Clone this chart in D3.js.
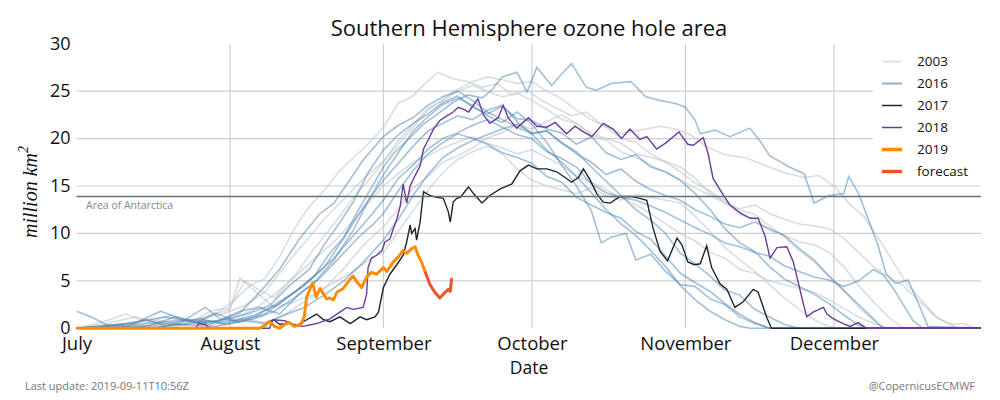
<!DOCTYPE html>
<html>
<head>
<meta charset="utf-8">
<script src="https://cdn.jsdelivr.net/npm/d3@7"></script>
<style>
body { margin: 0; background: #fff; }
svg text { font-family: "Open Sans", sans-serif; }
</style>
</head>
<body>
<div id="chart"></div>
<script>
// x values are days counted from 1 July, y values are million km2
var monthStarts = [0, 31, 62, 92, 123, 153];
var monthNames = ["July", "August", "September", "October", "November", "December"];
var yTicks = [0, 5, 10, 15, 20, 25, 30];
var antarcticaArea = 13.9;
var legendLabels = ["2003", "2016", "2017", "2018", "2019", "forecast"];

// earlier years, drawn faintly
var bgBlue1 = [[0,0],[12,0.4],[22,0.9],[30,0.6],[36,1.4],[41,2.6],[45,4.2],[48,5.5],[51,7.8],[54,9.6],[57,12.5],[60,15.2],[62,17.0],[64,18.4],[67,19.9],[70,21.5],[73,22.6],[76,23.8],[79,24.6],[82,24.3],[84,25.2],[86,26.5],[89,27.0],[91,24.9],[93,27.5],[96,25.6],[98,26.8],[100,27.9],[103,25.4],[105,25.1],[108,25.8],[112,26.0],[115,24.4],[118,24.0],[121,23.7],[123,23.3],[125,21.9],[126,20.5],[129,20.9],[132,20.2],[136,21.1],[138,19.8],[140,18.2],[144,17.0],[147,16.3],[149,13.2],[152,14.0],[155,14.2],[156,16.0],[158,14.2],[160,11.4],[162,8.6],[163.5,5.8],[165.5,4.7],[168,5.1],[170,2.7],[172,0.2],[183,0]];
var bgBlue2 = [[0,0],[10,0],[18,0.5],[25,1.0],[30,0.4],[36,1.0],[40,1.8],[44,3.2],[48,4.8],[52,7.2],[56,10.4],[59,13.5],[62,16.2],[65,18.5],[68,20.8],[71,22.3],[74,23.6],[77,24.3],[80,23.5],[83,22.4],[86,21.7],[89,22.8],[92,21.5],[95,19.6],[98,17.2],[101,15.0],[104,12.4],[106,9.0],[108,9.6],[111,10.0],[113,7.2],[116,7.8],[119,6.0],[122,4.6],[125,4.4],[128,3.1],[131,2.5],[134,1.2],[137,0.5],[140,0],[183,0]];
var bgBlue3 = [[0,0],[14,0.2],[20,1.2],[24,0.6],[30,0.9],[35,1.6],[39,2.4],[43,4.5],[47,6.2],[50,8.8],[53,11.0],[56,13.4],[59,16.5],[62,18.8],[65,20.4],[68,21.6],[71,22.6],[74,23.8],[77,24.5],[80,23.3],[83,22.6],[86,23.4],[89,22.1],[92,21.9],[95,21.0],[98,20.6],[101,19.4],[104,20.2],[107,18.5],[110,17.8],[113,18.3],[116,17.0],[119,16.5],[122,15.6],[125,14.2],[128,12.5],[131,10.5],[134,9.0],[137,8.1],[140,6.5],[143,5.2],[146,4.4],[149,3.6],[152,2.6],[155,1.4],[158,0.3],[160,0],[183,0]];
var bgBlue4 = [[0,0],[16,0],[21,0.6],[26,2.2],[29,1.0],[33,0.7],[38,1.5],[42,3.0],[46,4.5],[50,6.4],[54,9.5],[58,12.8],[62,15.6],[65,17.4],[68,19.2],[71,20.8],[74,21.6],[77,22.4],[80,22.0],[83,23.0],[86,23.5],[89,21.8],[92,20.5],[95,20.8],[98,19.6],[101,18.4],[104,17.5],[107,16.2],[110,16.8],[113,15.5],[116,14.6],[119,14.0],[122,13.5],[125,12.5],[128,11.8],[131,11.0],[134,10.6],[137,11.2],[140,10.5],[143,9.8],[146,8.4],[149,7.2],[152,5.5],[155,4.0],[158,2.5],[161,1.0],[163,0],[183,0]];
var bgBlue5 = [[0,1.8],[3,1.2],[6,0.4],[10,0.2],[14,0.9],[18,0.3],[24,0.5],[28,1.6],[32,0.8],[36,1.2],[40,2.5],[44,3.8],[48,5.5],[52,7.4],[56,9.8],[59,11.6],[62,13.5],[65,15.8],[68,17.2],[71,18.9],[74,20.0],[77,20.6],[80,21.4],[83,22.0],[86,21.2],[89,20.4],[92,20.0],[95,18.6],[98,17.9],[101,17.0],[104,15.2],[107,14.3],[110,13.8],[113,13.5],[116,12.9],[119,12.2],[122,11.4],[125,10.6],[128,9.9],[131,9.0],[134,8.6],[137,8.0],[140,7.6],[143,6.6],[146,6.0],[149,5.4],[152,5.1],[155,4.4],[158,5.0],[161,6.2],[163,5.6],[165,4.2],[167,2.5],[169,0.8],[171,0],[183,0]];
var bgBlue6 = [[0,0],[15,0],[20,0.4],[28,0.2],[34,0.8],[38,0.5],[42,1.4],[46,2.2],[50,3.5],[54,5.0],[58,7.0],[62,9.3],[65,11.5],[68,14.0],[71,16.2],[74,18.0],[77,19.0],[80,19.8],[83,20.4],[86,21.0],[89,21.5],[92,20.6],[95,20.8],[98,19.5],[101,18.6],[104,17.0],[107,15.5],[110,14.0],[113,12.5],[116,11.4],[119,10.0],[122,7.9],[125,6.8],[128,5.5],[131,4.0],[134,3.5],[137,2.0],[140,1.2],[143,0.4],[146,0],[183,0]];
var bgBlue7 = [[0,0],[10,0.5],[18,1.2],[22,0.8],[27,0.4],[33,1.8],[37,2.2],[41,1.5],[45,3.6],[49,5.2],[53,7.4],[57,9.6],[60,11.0],[62,12.1],[65,14.5],[68,16.6],[71,18.4],[74,19.6],[77,20.5],[80,20.0],[83,19.4],[86,18.5],[89,18.0],[92,17.4],[95,16.0],[98,15.4],[101,13.8],[104,13.0],[107,12.2],[110,11.6],[113,10.2],[116,9.4],[119,7.6],[122,5.8],[125,4.8],[128,3.9],[131,2.6],[134,1.5],[137,0.6],[140,0],[183,0]];
var bgBlue8 = [[0,0],[5,0.2],[12,0.6],[17,1.8],[21,1.0],[25,0.5],[29,0.8],[33,1.6],[37,3.8],[41,6.2],[45,9.4],[49,12.0],[52,13.2],[55,15.5],[58,17.8],[62,20.2],[65,21.4],[68,22.2],[71,23.5],[74,24.4],[77,25.0],[80,24.0],[83,22.8],[86,22.0],[89,21.2],[92,20.5],[95,18.8],[98,17.5],[101,16.0],[104,14.3],[107,12.5],[110,11.0],[113,9.8],[116,8.2],[119,6.5],[122,4.5],[125,3.0],[128,1.8],[131,0.9],[134,0.2],[136,0],[183,0]];

var bgGrey1 = [[0,0],[8,0.3],[15,0.9],[22,0.4],[28,1.5],[32,3.0],[35,4.5],[38,5.2],[41,7.5],[44,10.5],[47,12.8],[50,14.5],[53,16.5],[56,18.0],[59,19.5],[62,21.2],[65,23.7],[68,24.5],[70,25.6],[73,27.0],[76,26.3],[79,26.0],[82,25.4],[85,25.8],[88,24.6],[91,25.1],[94,24.0],[97,23.2],[100,22.4],[103,22.8],[106,21.5],[110,20.5],[114,20.9],[118,21.3],[121,21.0],[124,20.4],[127,19.2],[131,18.3],[135,18.0],[139,17.2],[143,16.4],[147,15.9],[150,16.1],[153,15.0],[156,13.2],[159,11.8],[162,9.5],[165,7.0],[168,4.5],[171,2.8],[174,1.0],[177,0.4],[179,0.5],[181,0.1],[183,0]];
var bgGrey2 = [[0,0],[6,0.5],[12,1.2],[16,0.6],[22,0.3],[27,1.8],[31,2.2],[34,5.0],[37,4.0],[40,3.2],[44,5.5],[48,8.4],[52,11.0],[56,13.8],[59,15.6],[62,17.5],[65,19.8],[68,21.5],[71,23.2],[74,24.0],[77,25.0],[80,25.6],[83,25.0],[86,24.4],[89,24.8],[92,24.0],[95,23.1],[98,22.0],[101,21.6],[104,20.5],[107,20.0],[110,19.5],[113,18.4],[116,18.0],[119,17.6],[122,17.0],[125,15.8],[128,14.2],[131,13.5],[134,12.0],[137,11.5],[140,10.3],[143,9.8],[146,9.1],[149,8.8],[152,8.0],[155,6.5],[158,4.5],[161,2.8],[164,1.2],[167,0],[183,0]];
var bgGrey3 = [[0,0],[12,0],[18,0.3],[26,0.8],[30,0.5],[34,1.0],[38,0.6],[42,1.4],[46,2.8],[50,4.2],[54,6.3],[58,8.8],[62,10.7],[65,12.6],[68,14.8],[71,16.0],[74,17.5],[77,18.2],[80,19.0],[83,20.1],[86,20.6],[89,21.5],[92,21.0],[95,21.8],[98,22.5],[101,21.6],[104,20.3],[107,19.8],[110,18.6],[113,18.0],[116,17.2],[119,16.4],[122,15.6],[125,14.8],[128,14.0],[131,13.2],[134,12.6],[137,13.0],[140,12.1],[143,11.5],[146,11.0],[149,10.8],[152,10.5],[155,9.5],[158,8.0],[161,6.5],[164,5.4],[167,4.5],[170,3.0],[173,1.5],[176,0.5],[178,0],[183,0]];
var bgGrey4 = [[0,0],[6,0.8],[10,1.5],[14,0.7],[20,0.4],[26,1.2],[31,2.0],[33,5.3],[35,4.4],[37,3.5],[40,2.2],[44,2.8],[48,3.6],[52,4.8],[56,6.0],[59,7.2],[62,8.0],[65,10.2],[68,12.4],[71,14.6],[74,16.4],[77,17.8],[80,18.6],[83,19.2],[86,18.4],[89,16.8],[92,15.6],[95,15.0],[98,14.6],[101,14.2],[104,14.8],[107,14.0],[110,13.5],[113,14.1],[116,13.8],[119,13.5],[122,13.2],[125,11.8],[128,10.2],[131,8.5],[134,7.2],[137,6.0],[140,4.6],[143,3.2],[146,2.0],[149,0.9],[152,0.2],[154,0],[183,0]];
var bgGrey5 = [[0,0],[10,0.3],[20,0.2],[25,0.9],[30,1.6],[34,2.4],[38,3.8],[42,6.5],[46,9.0],[50,11.5],[54,13.6],[58,15.8],[62,17.6],[65,19.4],[68,21.2],[71,23.0],[74,24.1],[77,25.2],[80,26.0],[83,26.5],[86,26.2],[89,25.8],[92,26.0],[95,25.0],[98,24.2],[101,23.0],[104,22.0],[107,21.2],[110,20.0],[113,19.6],[116,18.4],[119,17.5],[122,16.5],[125,15.3],[128,14.5],[131,13.2],[134,12.5],[137,12.0],[140,10.8],[143,9.6],[146,8.2],[149,7.0],[152,5.5],[155,4.0],[158,2.2],[161,0.8],[163,0],[183,0]];
var bgGrey6 = [[0,0],[8,0],[14,0.5],[19,1.4],[23,0.9],[28,0.4],[32,1.1],[36,2.0],[40,3.6],[44,5.4],[48,7.3],[52,9.1],[56,11.4],[59,13.2],[62,15.0],[65,16.3],[68,17.5],[71,18.2],[74,19.0],[77,19.6],[80,20.2],[83,19.5],[86,19.0],[89,18.4],[92,18.8],[95,18.0],[98,17.2],[101,16.0],[104,15.4],[107,14.6],[110,13.8],[113,13.0],[116,12.1],[119,11.0],[122,10.0],[125,9.2],[128,8.0],[131,7.4],[134,6.2],[137,5.8],[140,5.0],[143,4.6],[146,4.2],[149,3.8],[152,3.0],[155,2.1],[158,1.2],[161,0.5],[164,0],[183,0]];

var y2017 = [[0,0],[37,0],[38.5,0.5],[39.8,0.9],[41.1,0.4],[42.8,0.6],[44.5,0.3],[46.5,0.9],[48.5,1.5],[49.9,0.9],[51.2,0.7],[53.2,1.2],[55.3,0.5],[57.3,1.2],[58.6,0.9],[60.3,1.2],[61,1.7],[62,4.3],[63.3,5.7],[64.7,6.7],[66,7.7],[66.7,9.1],[67.4,10.9],[67.7,10.0],[68.4,10.5],[68.7,9.3],[69.4,11.2],[70.1,14.4],[71.4,14.0],[72.8,13.8],[74.1,13.7],[75.1,12.3],[75.5,11.2],[76.1,13.3],[76.8,13.7],[77.5,13.8],[79.2,14.9],[80.2,14.2],[81.9,13.2],[83.5,14.0],[85.6,14.7],[87.9,15.2],[89.6,16.6],[91.3,17.2],[93,16.8],[95,16.8],[97,16.5],[98.7,15.9],[100,15.4],[101.4,15.9],[102.4,16.8],[103.7,15.7],[105.1,14.2],[106.4,13.3],[107.8,13.2],[109.8,13.9],[111.8,13.9],[113.8,13.7],[115.2,13.5],[116.5,10.5],[117.9,8.1],[119.4,7.1],[121.3,9.5],[122.3,8.8],[123.5,7.0],[124.8,6.7],[126,6.8],[127.3,8.7],[128.3,6.4],[130,4.7],[131.4,4.1],[133,2.2],[134.7,2.8],[136.7,4.1],[137.7,3.8],[139.4,1.2],[140.4,0],[183,0]];

var y2018 = [[0,0],[24,0],[24.7,0.5],[26,0.4],[27,0],[39,0],[39.7,0.9],[42.1,0.8],[44,0.3],[45.8,0.2],[48.5,0.5],[51.2,1.0],[53.2,1.7],[54.6,2.2],[55.9,2.0],[57.9,2.2],[58.6,3.6],[58.9,6.4],[59.6,7.4],[60.6,7.7],[61.7,8.2],[62.3,9.1],[63.3,9.4],[64,10.5],[64.7,11.5],[65.4,12.9],[66,15.2],[66.7,13.2],[67.4,15.0],[68.4,16.1],[69.4,17.1],[70.1,18.9],[71.1,19.9],[72.1,21.0],[73.4,21.9],[74.8,22.4],[76.1,22.8],[77.1,23.3],[78.1,23.1],[79.2,22.8],[81.1,24.2],[82.2,22.5],[83.5,21.6],[85.2,22.2],[86.2,23.5],[87.2,22.2],[88.9,21.1],[91.3,22.2],[93,21.3],[95,21.2],[96.7,21.7],[99,20.5],[100.7,21.3],[102.4,20.7],[104.1,20.2],[106.4,21.6],[108.4,21.0],[110.1,20.0],[111.8,21.0],[113.8,19.9],[115.2,20.2],[117.2,18.9],[119.2,19.6],[121.7,20.7],[123.5,19.4],[124.6,19.3],[126.6,20.1],[127.6,18.4],[128.6,15.8],[130.7,14.0],[132,13.0],[134,12.2],[136.1,11.6],[137.7,11.6],[139.1,9.7],[140.1,7.4],[141.5,8.5],[143.5,8.6],[144.8,7.0],[146.5,3.3],[147.5,1.2],[148.8,1.7],[150.9,2.2],[151.6,1.5],[152.9,1.0],[154.9,0.5],[156.3,0.2],[157.9,0.6],[159.6,0],[183,0]];

var y2019 = [[0,0],[37,0],[38,0.3],[39,0.7],[40,0.2],[41,0],[42,0.4],[43,0.6],[44,0.2],[45.3,0.4],[46,1.2],[46.5,3.3],[47.7,4.8],[48.4,3.3],[49.2,4.2],[50.5,3.1],[51.2,3.2],[51.9,3.0],[52.6,3.8],[53.9,4.2],[55.3,5.2],[55.9,5.5],[56.6,4.9],[57.6,4.3],[58.6,5.4],[59.6,5.9],[60.6,5.7],[62,6.4],[62.7,6.0],[64,7.0],[65,7.5],[66,8.2],[66.7,7.9],[67.7,8.4],[68.4,8.6],[69,7.7],[69.7,7.0],[70.4,6.0]];
var forecast2019 = [[70.4,6.0],[70.7,5.6],[71.4,4.6],[72.4,3.8],[73.4,3.2],[74.1,3.6],[75.1,4.1],[75.5,3.9],[75.8,5.3]];

var width = 1000, height = 400;

var svg = d3.select("#chart").append("svg")
    .attr("width", width)
    .attr("height", height)

var x = d3.scaleLinear().domain([0, 183]).range([76.5, 982.4]);
var y = d3.scaleLinear().domain([0, 30]).range([328.3, 43.7]);

var left = 76.5, right = 981;

svg.append("defs").append("clipPath").attr("id", "plotclip")
  .append("rect")
    .attr("x", left).attr("y", 40)
    .attr("width", right - left).attr("height", 292)

// grid
svg.append("g").selectAll("line")
    .data(yTicks.filter(function(t){ return t > 0 && t < 30 }))
  .enter().append("line")
    .attr("x1", left).attr("x2", right)
    .attr("y1", function(d){ return y(d) }).attr("y2", function(d){ return y(d) })
    .attr("stroke", "#cfcfcf").attr("stroke-width", 1.2)

svg.append("g").selectAll("line")
    .data(monthStarts.slice(1))
  .enter().append("line")
    .attr("x1", function(d){ return x(d) }).attr("x2", function(d){ return x(d) })
    .attr("y1", y(30)).attr("y2", y(0))
    .attr("stroke", "#cfcfcf").attr("stroke-width", 1.2)

// legend background hides the grid behind it
svg.append("rect")
    .attr("x", 873).attr("y", 44)
    .attr("width", right - 873).attr("height", 139)
    .attr("fill", "#fff")

var line = d3.line()
    .x(function(d){ return x(d[0]) })
    .y(function(d){ return y(d[1]) })

var plot = svg.append("g").attr("clip-path", "url(#plotclip)")

var greys = [bgGrey1, bgGrey2, bgGrey3, bgGrey4, bgGrey5, bgGrey6];
var blues = [bgBlue1, bgBlue2, bgBlue3, bgBlue4, bgBlue5, bgBlue6, bgBlue7, bgBlue8];

plot.selectAll(".grey").data(greys).enter().append("path")
    .attr("class", "grey")
    .attr("d", line)
    .attr("fill", "none")
    .attr("stroke", "#b9c1c9").attr("stroke-opacity", 0.55).attr("stroke-width", 1.6)

plot.selectAll(".blue").data(blues).enter().append("path")
    .attr("class", "blue")
    .attr("d", line)
    .attr("fill", "none")
    .attr("stroke", "#4682b4").attr("stroke-opacity", 0.5).attr("stroke-width", 1.6)

// area of Antarctica reference
svg.append("line")
    .attr("x1", left).attr("x2", right)
    .attr("y1", y(antarcticaArea)).attr("y2", y(antarcticaArea))
    .attr("stroke", "#667070").attr("stroke-width", 1.4)

svg.append("text")
    .attr("x", 86).attr("y", 209)
    .attr("font-size", "10.5px").attr("fill", "#888")
    .text("Area of Antarctica")

plot.append("path").datum(y2017)
    .attr("d", line).attr("fill", "none")
    .attr("stroke", "#1b2631").attr("stroke-width", 1.4)

plot.append("path").datum(y2018)
    .attr("d", line).attr("fill", "none")
    .attr("stroke", "#6a3d9a").attr("stroke-width", 1.4)

plot.append("path").datum(y2019)
    .attr("d", line).attr("fill", "none")
    .attr("stroke", "#ff8c00").attr("stroke-width", 3)
    .attr("stroke-linejoin", "round")

plot.append("path").datum(forecast2019)
    .attr("d", line).attr("fill", "none")
    .attr("stroke", "#ef5429").attr("stroke-width", 3)
    .attr("stroke-linejoin", "round")

// axes
var xAxis = svg.append("g")
    .attr("transform", "translate(0," + y(0) + ")")
    .call(d3.axisBottom(x).tickValues(monthStarts)
      .tickFormat(function(d, i){ return monthNames[i] })
      .tickSize(0).tickPadding(9))
xAxis.select(".domain").remove()
xAxis.selectAll("text")
    .attr("font-family", "Open Sans, sans-serif")
    .style("font-size", "18.5px").attr("fill", "#111")

var yAxis = svg.append("g")
    .attr("transform", "translate(" + left + ",0)")
    .call(d3.axisLeft(y).tickValues(yTicks).tickSize(0).tickPadding(6))
yAxis.select(".domain").remove()
yAxis.selectAll("text")
    .attr("font-family", "Open Sans, sans-serif")
    .style("font-size", "18px").attr("fill", "#111")
    .attr("dy", "0.3em")

// titles
svg.append("text")
    .attr("x", 529).attr("y", 36)
    .attr("text-anchor", "middle")
    .style("font-size", "22px").attr("fill", "#111")
    .text("Southern Hemisphere ozone hole area")

svg.append("text")
    .attr("x", 529).attr("y", 374)
    .attr("text-anchor", "middle")
    .style("font-size", "17.5px").attr("fill", "#111")
    .text("Date")

var ylab = svg.append("text")
    .attr("transform", "translate(37,192) rotate(-90)")
    .attr("text-anchor", "middle")
    .style("font-family", "'Liberation Serif', serif")
    .style("font-style", "italic")
    .style("font-size", "20px").attr("fill", "#111")
ylab.append("tspan").text("million km")
ylab.append("tspan").attr("dy", -9).style("font-size", "14px").text("2")

svg.append("text")
    .attr("x", 25).attr("y", 390)
    .style("font-size", "11px").attr("fill", "#777")
    .text("Last update: 2019-09-11T10:56Z")

svg.append("text")
    .attr("x", 975).attr("y", 390)
    .attr("text-anchor", "end")
    .style("font-size", "11px").attr("fill", "#777")
    .text("@CopernicusECMWF")

// legend
var legendStyle = [
  { color: "#dfe3e7", w: 2 },
  { color: "#8fb1d0", w: 2 },
  { color: "#1b2631", w: 1.5 },
  { color: "#6a3d9a", w: 1.5 },
  { color: "#ff8c00", w: 3.5 },
  { color: "#ef5429", w: 3.5 }
];

var legend = svg.append("g").selectAll("g")
    .data(legendLabels)
  .enter().append("g")
    .attr("transform", function(d, i){ return "translate(0," + (66 + i * 22) + ")" })

legend.append("line")
    .attr("x1", 882).attr("x2", 902)
    .attr("y1", -4.5).attr("y2", -4.5)
    .attr("stroke", function(d, i){ return legendStyle[i].color })
    .attr("stroke-width", function(d, i){ return legendStyle[i].w })

legend.append("text")
    .attr("x", 917)
    .style("font-size", "13.5px").attr("fill", "#111")
    .text(function(d){ return d })
</script>
</body>
</html>
